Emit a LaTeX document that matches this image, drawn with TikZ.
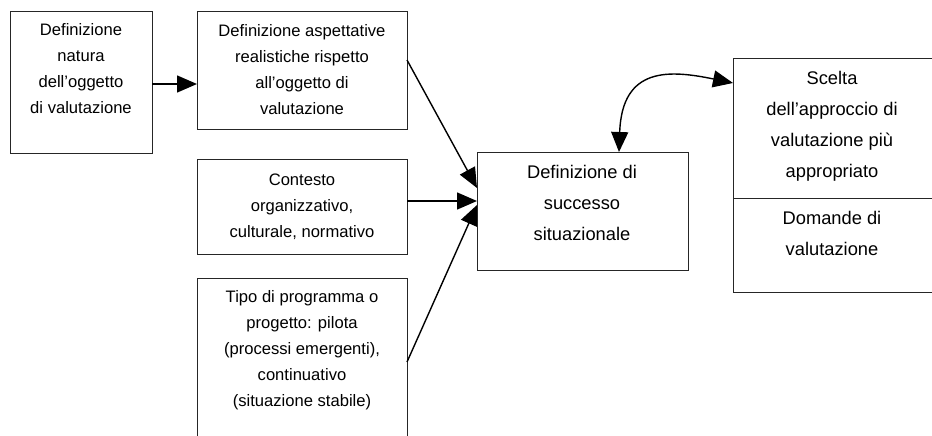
\documentclass[tikz,border=0pt]{standalone}
\usepackage{fontspec}
\setmainfont{Liberation Sans}
\usetikzlibrary{arrows.meta}
\begin{document}
\begin{tikzpicture}[x=1pt,y=-1pt,
  box/.style={draw=black!85,line width=1pt,inner sep=0pt,outer sep=0pt,fill=none},
  small/.style={align=center,font=\fontsize{16.6}{26}\selectfont,inner sep=0pt},
  large/.style={align=center,font=\fontsize{18.3}{31}\selectfont,inner sep=0pt},
  tip/.tip={Triangle[length=20pt,width=17pt]},
  arr/.style={line width=1.4pt,-tip},
  dblarr/.style={line width=1.4pt,tip-tip}]
\clip (0,0) rectangle (932,436);
\fill[white] (0,0) rectangle (932,436);

% boxes
\node[box,minimum width=142pt,minimum height=141pt] (b1) at (81,82.5) {};
\node[box,minimum width=210pt,minimum height=117pt] (b2) at (302,70.5) {};
\node[box,minimum width=210pt,minimum height=95pt] (b3) at (302,206.5) {};
\node[box,minimum width=210pt,minimum height=200pt] (b4) at (302,378) {};
\node[box,minimum width=211pt,minimum height=118pt] (b5) at (582.5,211) {};
\node[box,minimum width=230pt,minimum height=233pt] (b6) at (848,175.5) {};
\draw[black!85,line width=1pt] (b6.west |- 0,198) -- (b6.east |- 0,198);

% texts
\node[small] (t1) at (81,69) {Definizione\\natura\\dell’oggetto\\di valutazione};
\node[small] (t2) at (302,70) {Definizione aspettative\\realistiche rispetto\\all’oggetto di\\valutazione};
\node[small] (t3) at (302,207) {Contesto\\organizzativo,\\culturale, normativo};
\node[small] (t4) at (302,350) {Tipo di programma o\\progetto: pilota\\(processi emergenti),\\continuativo\\(situazione stabile)};
\node[large] (t5) at (582,203) {Definizione di\\successo\\situazionale};
\node[large] (t6) at (832,126) {Scelta\\dell’approccio di\\valutazione più\\appropriato};
\node[large] (t7) at (832,233.5) {Domande di\\valutazione};

% connector end points
\coordinate (s2) at (b2.east |- 0,60);
\coordinate (s3) at (b3.east |- 0,201);
\coordinate (s4) at (b4.east |- 0,362);
\coordinate (e2) at (b5.west |- 0,188);
\coordinate (e3) at (b5.west |- 0,201);
\coordinate (e4) at (b5.west |- 0,205);
\coordinate (c5) at (619,152);
\coordinate (c6) at (b6.west |- 0,83);

% connectors
\draw[arr] (b1.east |- 0,84) -- (b2.west |- 0,84);
\draw[arr] (s2) -- (e2);
\draw[arr] (s3) -- (e3);
\draw[arr] (s4) -- (e4);
\draw[dblarr] (c5) .. controls (622,66) and (670,70) .. (c6);
\end{tikzpicture}
\end{document}
